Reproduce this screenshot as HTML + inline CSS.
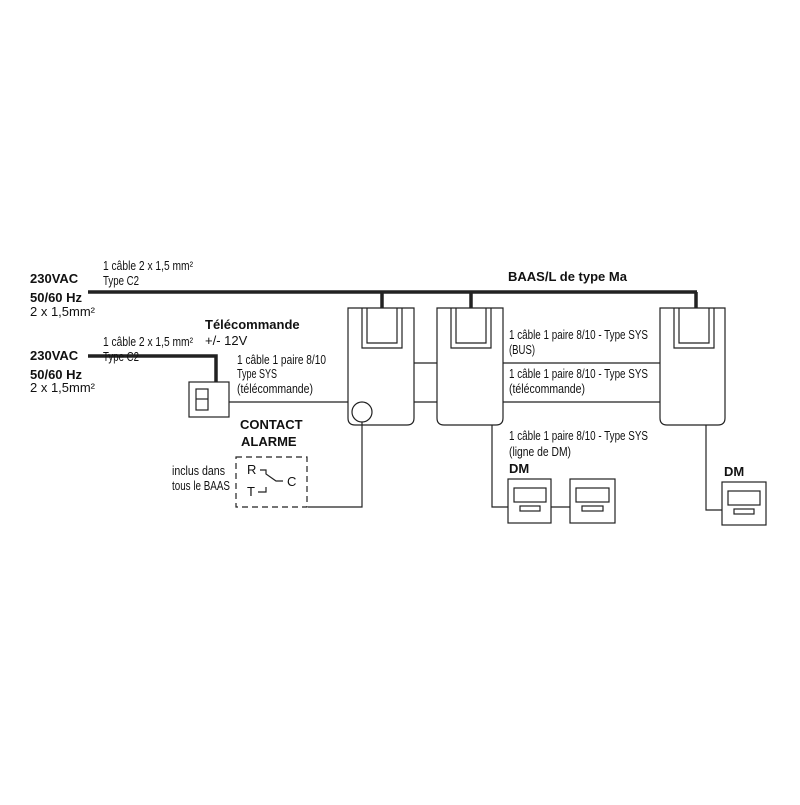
<!DOCTYPE html>
<html><head><meta charset="utf-8"><style>
body{margin:0;background:#fff;width:800px;height:800px;overflow:hidden}
svg text{font-family:"Liberation Sans",sans-serif;fill:#111}
.n{font-size:12.5px}
.b{font-weight:bold;font-size:13px}
</style></head><body>
<svg width="800" height="800" viewBox="0 0 800 800" xmlns="http://www.w3.org/2000/svg">
<g fill="none" stroke="#222">
<path d="M88 292H697" stroke-width="3.5"/>
<path d="M382 292V308M471 292V308M696 292V308" stroke-width="3.5"/>
<path d="M88 356H216V382" stroke-width="3.5"/>
<g stroke-width="1.2">
<path d="M348 308H414V418Q414 425 407 425H355Q348 425 348 418Z"/>
<path d="M362 308V348H402V308M367 308V343H397V308"/>
<path d="M437 308H503V418Q503 425 496 425H444Q437 425 437 418Z"/>
<path d="M451 308V348H491V308M456 308V343H486V308"/>
<path d="M660 308H725V418Q725 425 718 425H667Q660 425 660 418Z"/>
<path d="M674 308V348H714V308M679 308V343H709V308"/>
<circle cx="362" cy="412" r="10"/>
<path d="M414 363H437M414 402H437M503 363H660M503 402H660"/>
<path d="M229 402H348"/>
<path d="M362 422V507H308"/>
<path d="M492 425V507H508M551 507H570M706 425V510H722"/>
<rect x="189" y="382" width="40" height="35"/>
<rect x="196" y="389" width="12" height="21"/>
<path d="M196 399H208"/>
<rect x="508" y="479" width="43" height="44"/>
<rect x="514" y="488" width="32" height="14"/>
<rect x="520" y="506" width="20" height="5"/>
<rect x="570" y="479" width="45" height="44"/>
<rect x="576" y="488" width="33" height="14"/>
<rect x="582" y="506" width="21" height="5"/>
<rect x="722" y="482" width="44" height="43"/>
<rect x="728" y="491" width="32" height="14"/>
<rect x="734" y="509" width="20" height="5"/>
<rect x="236" y="457" width="71" height="50" stroke-dasharray="6,4"/>
<path d="M260 470H266V474L276 481H283M258 492H266V487"/>
</g>
</g>
<text x="30" y="283" class="b">230VAC</text>
<text x="30" y="302" class="b">50/60 Hz</text>
<text x="30" y="316" font-size="13">2 x 1,5mm²</text>
<text x="103" y="270" class="n" textLength="90" lengthAdjust="spacingAndGlyphs">1 câble 2 x 1,5 mm²</text>
<text x="103" y="285" class="n" textLength="36" lengthAdjust="spacingAndGlyphs">Type C2</text>
<text x="30" y="360" class="b">230VAC</text>
<text x="30" y="379" class="b">50/60 Hz</text>
<text x="30" y="392" font-size="13">2 x 1,5mm²</text>
<text x="103" y="346" class="n" textLength="90" lengthAdjust="spacingAndGlyphs">1 câble 2 x 1,5 mm²</text>
<text x="103" y="361" class="n" textLength="36" lengthAdjust="spacingAndGlyphs">Type C2</text>
<text x="205" y="329" class="b">Télécommande</text>
<text x="205" y="345" font-size="13">+/- 12V</text>
<text x="237" y="364" class="n" textLength="89" lengthAdjust="spacingAndGlyphs">1 câble 1 paire 8/10</text>
<text x="237" y="378" class="n" textLength="40" lengthAdjust="spacingAndGlyphs">Type SYS</text>
<text x="237" y="393" class="n" textLength="76" lengthAdjust="spacingAndGlyphs">(télécommande)</text>
<text x="240" y="429" class="b">CONTACT</text>
<text x="241" y="446" class="b">ALARME</text>
<text x="172" y="475" class="n" textLength="53" lengthAdjust="spacingAndGlyphs">inclus dans</text>
<text x="172" y="490" class="n" textLength="58" lengthAdjust="spacingAndGlyphs">tous le BAAS</text>
<text x="247" y="474" font-size="13">R</text>
<text x="247" y="496" font-size="13">T</text>
<text x="287" y="486" font-size="13">C</text>
<text x="508" y="281" class="b">BAAS/L de type Ma</text>
<text x="509" y="339" class="n" textLength="139" lengthAdjust="spacingAndGlyphs">1 câble 1 paire 8/10 - Type SYS</text>
<text x="509" y="354" class="n" textLength="26" lengthAdjust="spacingAndGlyphs">(BUS)</text>
<text x="509" y="378" class="n" textLength="139" lengthAdjust="spacingAndGlyphs">1 câble 1 paire 8/10 - Type SYS</text>
<text x="509" y="393" class="n" textLength="76" lengthAdjust="spacingAndGlyphs">(télécommande)</text>
<text x="509" y="440" class="n" textLength="139" lengthAdjust="spacingAndGlyphs">1 câble 1 paire 8/10 - Type SYS</text>
<text x="509" y="456" class="n" textLength="62" lengthAdjust="spacingAndGlyphs">(ligne de DM)</text>
<text x="509" y="473" class="b">DM</text>
<text x="724" y="476" class="b">DM</text>
</svg>
</body></html>
